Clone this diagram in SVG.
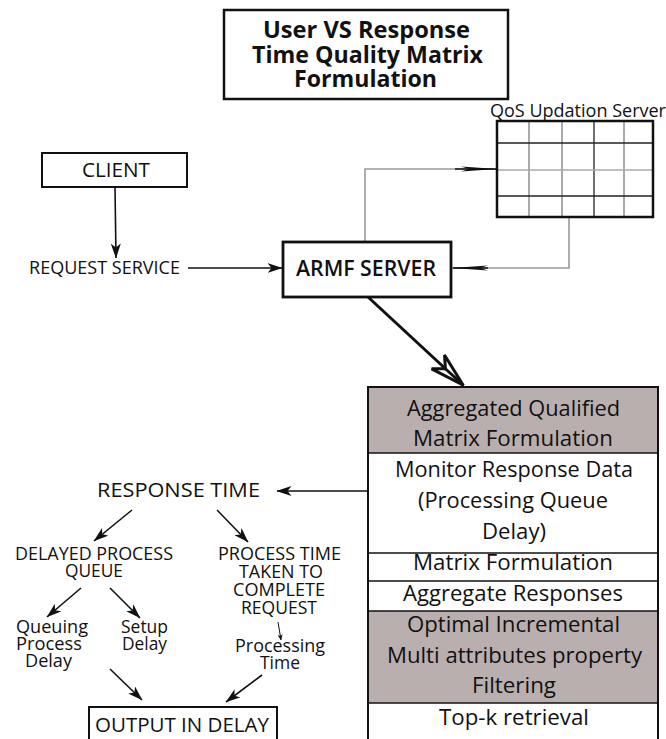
<svg xmlns="http://www.w3.org/2000/svg" width="666" height="739" viewBox="0 0 666 739">
  <defs>
    <marker id="barb" viewBox="0 0 15 10" refX="14.5" refY="5" markerWidth="15" markerHeight="10" markerUnits="userSpaceOnUse" orient="auto">
      <path d="M0,0 L15,5 L0,10 L4,5 z" fill="#111"/>
    </marker>
    <marker id="barbBig" viewBox="0 0 36 22" refX="35" refY="11" markerWidth="36" markerHeight="22" markerUnits="userSpaceOnUse" orient="auto">
      <path d="M1,1.5 L35,11 L1,20.5 L11,11 z" fill="none" stroke="#111" stroke-width="3" stroke-linejoin="miter"/>
    </marker>
    <marker id="thin" viewBox="0 0 36 6" refX="35" refY="3" markerWidth="36" markerHeight="6" markerUnits="userSpaceOnUse" orient="auto">
      <path d="M0,0.5 L36,3 L0,5.5 L8,3 z" fill="#111"/>
    </marker>
    <marker id="tiny" viewBox="0 0 6 6" refX="5.5" refY="3" markerWidth="6" markerHeight="6" markerUnits="userSpaceOnUse" orient="auto">
      <path d="M0,0.5 L6,3 L0,5.5 L1.5,3 z" fill="#111"/>
    </marker>
  </defs>
  <style>
    text { font-family: "Open Sans", "Liberation Sans", sans-serif; fill: #111; }
    .box { fill: #fff; stroke: #111; stroke-width: 2.5; }
    .shade { fill: #b9afaf; }
    .div { stroke: #111; stroke-width: 1.5; }
    .conn { fill: none; stroke: #111; stroke-width: 1.6; marker-end: url(#barb); }
    .grey { fill: none; stroke: #999; stroke-width: 1.6; }
    .gridv { stroke: #aaa; stroke-width: 2; }
    .gridh { stroke: #222; stroke-width: 1.3; }
    .mid { text-anchor: middle; }
    .t15 { font-size: 17.5px; font-weight: 500; }
    .t17 { font-size: 21px; font-weight: 500; }
    .ttl { font-size: 23px; font-weight: 700; }
  </style>

  <!-- connectors -->
  <g id="connectors">
    <line class="conn" x1="115" y1="187" x2="116" y2="258"/>
    <line class="conn" x1="188" y1="268" x2="282" y2="268"/>
    <!-- ARMF to QoS server -->
    <path class="grey" d="M365,242 V169 H497"/>
    <line x1="455" y1="169" x2="496" y2="169" stroke="#111" stroke-width="1.6" marker-end="url(#thin)"/>
    <!-- QoS server back to ARMF -->
    <path class="grey" d="M569,217 V268 H452"/>
    <line x1="488" y1="268" x2="453" y2="268" stroke="#111" stroke-width="1.4" marker-end="url(#thin)"/>
    <!-- ARMF down to the formulation stack -->
    <line x1="368" y1="297" x2="463" y2="385" stroke="#111" stroke-width="3" marker-end="url(#barbBig)"/>
    <line class="conn" x1="368" y1="491" x2="277" y2="491"/>
    <line class="conn" x1="132" y1="510" x2="94" y2="541"/>
    <line class="conn" x1="217" y1="510" x2="248" y2="542"/>
    <line class="conn" x1="81" y1="588" x2="47" y2="617"/>
    <line class="conn" x1="110" y1="588" x2="140" y2="618"/>
    <line x1="278" y1="622" x2="281" y2="640" stroke="#111" stroke-width="1" marker-end="url(#tiny)"/>
    <line class="conn" x1="110" y1="669" x2="142" y2="700"/>
    <line class="conn" x1="262" y1="675" x2="226" y2="702"/>
  </g>

  <!-- title -->
  <g id="title">
    <rect class="box" x="224" y="10" width="284" height="89"/>
    <text class="mid ttl" x="366.5" y="38" textLength="207" lengthAdjust="spacingAndGlyphs">User VS Response</text>
    <text class="mid ttl" x="367.5" y="63" textLength="231" lengthAdjust="spacingAndGlyphs">Time Quality Matrix</text>
    <text class="mid ttl" x="365.5" y="87" textLength="143" lengthAdjust="spacingAndGlyphs">Formulation</text>
  </g>

  <!-- QoS updation server grid -->
  <g id="qos">
    <text x="490" y="117" font-size="18" textLength="176" lengthAdjust="spacingAndGlyphs">QoS Updation Server</text>
    <rect x="497" y="121" width="156" height="96" fill="#fff" stroke="none"/>
    <line class="gridv" x1="529" y1="121" x2="529" y2="217"/>
    <line class="gridv" x1="562" y1="121" x2="562" y2="217"/>
    <line class="gridh" x1="594" y1="121" x2="594" y2="217"/>
    <line class="gridv" x1="624" y1="121" x2="624" y2="217"/>
    <line class="gridh" x1="497" y1="143" x2="653" y2="143"/>
    <line class="gridv" x1="497" y1="170" x2="653" y2="170" style="stroke-width:1.6"/>
    <line class="gridh" x1="497" y1="196" x2="653" y2="196"/>
    <rect x="497" y="121" width="156" height="96" fill="none" stroke="#111" stroke-width="2.5"/>
  </g>

  <g id="client">
    <rect class="box" x="42" y="153" width="145" height="34" style="stroke-width:2"/>
    <text class="mid" x="116" y="177" font-size="20" textLength="68" lengthAdjust="spacingAndGlyphs">CLIENT</text>
  </g>

  <g id="request-service">
    <text x="29" y="274" font-size="17.5" font-weight="500" textLength="151" lengthAdjust="spacingAndGlyphs">REQUEST SERVICE</text>
  </g>

  <g id="armf-server">
    <rect class="box" x="283" y="242" width="168" height="55" style="stroke-width:2.8"/>
    <text class="mid" x="366" y="276" font-size="21" font-weight="600" textLength="140" lengthAdjust="spacingAndGlyphs">ARMF SERVER</text>
  </g>

  <!-- formulation stack -->
  <g id="formulation">
    <rect x="368" y="387" width="290" height="360" fill="#fff"/>
    <rect class="shade" x="368" y="387" width="290" height="66"/>
    <rect class="shade" x="368" y="611" width="290" height="92"/>
    <line class="div" x1="368" y1="453" x2="658" y2="453"/>
    <line class="div" x1="368" y1="553" x2="658" y2="553"/>
    <line class="div" x1="368" y1="581" x2="658" y2="581"/>
    <line class="div" x1="368" y1="611" x2="658" y2="611"/>
    <line class="div" x1="368" y1="703" x2="658" y2="703"/>
    <rect x="368" y="387" width="290" height="360" fill="none" stroke="#111" stroke-width="2"/>
    <text class="mid t17" x="513.5" y="416" textLength="213" lengthAdjust="spacingAndGlyphs">Aggregated Qualified</text>
    <text class="mid t17" x="513" y="446" textLength="200" lengthAdjust="spacingAndGlyphs">Matrix Formulation</text>
    <text class="mid t17" x="514" y="477" textLength="238" lengthAdjust="spacingAndGlyphs">Monitor Response Data</text>
    <text class="mid t17" x="513" y="508" textLength="190" lengthAdjust="spacingAndGlyphs">(Processing Queue</text>
    <text class="mid t17" x="514" y="539" textLength="64" lengthAdjust="spacingAndGlyphs">Delay)</text>
    <text class="mid t17" x="513" y="570" textLength="200" lengthAdjust="spacingAndGlyphs">Matrix Formulation</text>
    <text class="mid t17" x="513" y="601" textLength="220" lengthAdjust="spacingAndGlyphs">Aggregate Responses</text>
    <text class="mid t17" x="513.5" y="632" textLength="213" lengthAdjust="spacingAndGlyphs">Optimal Incremental</text>
    <text class="mid t17" x="514.5" y="663" textLength="255" lengthAdjust="spacingAndGlyphs">Multi attributes property</text>
    <text class="mid t17" x="514" y="693" textLength="84" lengthAdjust="spacingAndGlyphs">Filtering</text>
    <text class="mid t17" x="514" y="725" textLength="150" lengthAdjust="spacingAndGlyphs">Top-k retrieval</text>
  </g>

  <g id="response-time">
    <text class="mid" x="178.5" y="497" font-size="20" font-weight="500" textLength="163" lengthAdjust="spacingAndGlyphs">RESPONSE TIME</text>
  </g>

  <g id="delayed-process-queue">
    <text class="mid t15" x="94" y="560" textLength="158" lengthAdjust="spacingAndGlyphs">DELAYED PROCESS</text>
    <text class="mid t15" x="94" y="577" textLength="58" lengthAdjust="spacingAndGlyphs">QUEUE</text>
  </g>

  <g id="process-time">
    <text class="mid t15" x="279.5" y="560" textLength="123" lengthAdjust="spacingAndGlyphs">PROCESS TIME</text>
    <text class="mid t15" x="281" y="578" textLength="84" lengthAdjust="spacingAndGlyphs">TAKEN TO</text>
    <text class="mid t15" x="279" y="596" textLength="92" lengthAdjust="spacingAndGlyphs">COMPLETE</text>
    <text class="mid t15" x="279" y="614" textLength="76" lengthAdjust="spacingAndGlyphs">REQUEST</text>
  </g>

  <g id="queuing-process-delay">
    <text class="mid t15" x="52" y="633" textLength="72" lengthAdjust="spacingAndGlyphs">Queuing</text>
    <text class="mid t15" x="49" y="650" textLength="66" lengthAdjust="spacingAndGlyphs">Process</text>
    <text class="mid t15" x="48.5" y="667" textLength="47" lengthAdjust="spacingAndGlyphs">Delay</text>
  </g>

  <g id="setup-delay">
    <text class="mid t15" x="144.5" y="633" textLength="47" lengthAdjust="spacingAndGlyphs">Setup</text>
    <text class="mid t15" x="144.5" y="650" textLength="45" lengthAdjust="spacingAndGlyphs">Delay</text>
  </g>

  <g id="processing-time">
    <text class="mid t15" x="280" y="652" textLength="90" lengthAdjust="spacingAndGlyphs">Processing</text>
    <text class="mid t15" x="280" y="669" textLength="40" lengthAdjust="spacingAndGlyphs">Time</text>
  </g>

  <g id="output-in-delay">
    <rect class="box" x="89" y="707" width="188" height="45" style="stroke-width:2"/>
    <text class="mid" x="182" y="732" font-size="20" font-weight="500" textLength="174" lengthAdjust="spacingAndGlyphs">OUTPUT IN DELAY</text>
  </g>
</svg>
